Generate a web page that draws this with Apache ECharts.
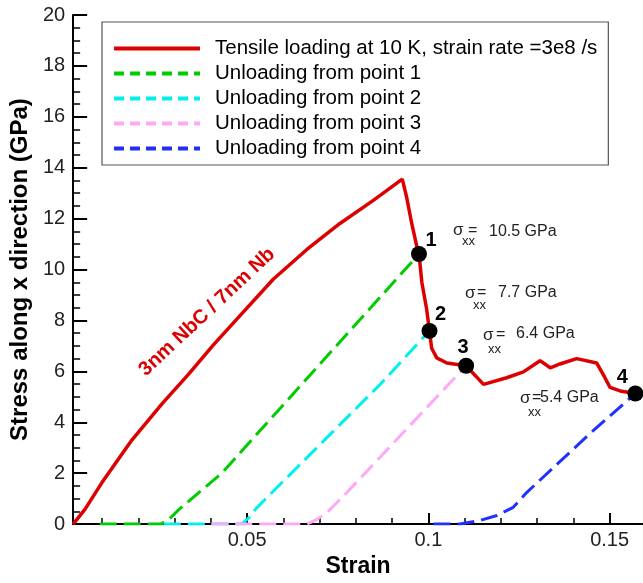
<!DOCTYPE html>
<html><head><meta charset="utf-8">
<script src="https://cdn.jsdelivr.net/npm/echarts@6/dist/echarts.min.js"></script>
<style>html,body{margin:0;padding:0;background:#fff}#c{width:643px;height:583px}</style>
</head><body><div id="c"></div>
<script>
// Tensile loading curve (strain, stress GPa)
const loadStrain = [0.0020,0.0053,0.0099,0.0182,0.0265,0.0338,0.0407,0.0481,0.0572,0.0664,0.0756,0.0848,0.0928,0.0940,0.0954,0.0968,0.0974,0.0982,0.0995,0.1003,0.1009,0.1023,0.1051,0.1104,0.1152,0.1216,0.1262,0.1308,0.1336,0.1363,0.1409,0.1464,0.1487,0.1501,0.1529,0.1571];
const loadStress = [0.00,0.59,1.62,3.30,4.72,5.88,7.04,8.20,9.62,10.78,11.81,12.72,13.55,12.84,11.81,10.91,10.61,9.49,8.46,7.59,6.91,6.53,6.33,6.22,5.49,5.75,5.98,6.42,6.14,6.29,6.50,6.33,5.75,5.37,5.23,5.13];
// Unloading curves
const unl1Strain = [0.0093,0.0262,0.0285,0.0310,0.0430,0.0974];
const unl1Stress = [0,0,0.20,0.55,2.00,10.61];
const unl2Strain = [0.0270,0.0485,0.0505,0.0525,0.0867,0.1003];
const unl2Stress = [0,0,0.25,0.62,5.49,7.59];
const unl3Strain = [0.0401,0.0665,0.0692,0.0720,0.0775,0.1104];
const unl3Stress = [0,0,0.18,0.45,1.24,6.22];
const unl4Strain = [0.1014,0.1087,0.1142,0.1189,0.1234,0.1271,0.1446,0.1571];
const unl4Stress = [0,0,0.14,0.34,0.66,1.24,3.56,5.13];
// Unloading start points
const ptStrain = [0.0974,0.1003,0.1104,0.1571];
const ptStress = [10.61,7.59,6.22,5.13];
const ptLabels = ['1','2','3','4'];
// Names and ticks
const seriesNames = ['Tensile loading at 10 K, strain rate =3e8 /s','Unloading from point 1','Unloading from point 2','Unloading from point 3','Unloading from point 4'];
const xMajorTicks = [0.05,0.10,0.15];
const xMinorTicks = [0.01,0.02,0.03,0.04,0.06,0.07,0.08,0.09,0.11,0.12,0.13,0.14];
const sigmaValues = ['10.5 GPa','7.7 GPa','6.4 GPa','5.4 GPa'];

const zip = (a,b)=>a.map((v,i)=>[v,b[i]]);
const colors = ['#dd0000','#00cc00','#00f0f0','#ffa8f8','#2030ff'];
const FONT = '"Liberation Sans", Arial, sans-serif';

const chart = echarts.init(document.getElementById('c'), null, {renderer:'canvas'});

function dashed(name, data, color){
  return {name, type:'line', data, symbol:'none', z:2,
    lineStyle:{color, width:3, type:[17,7]}, itemStyle:{color}};
}

const labelOffsets = [[12,-14],[11,-16],[-3,-18],[-13,-16]];

const sigmaTexts = [];
const sig = [
  {s:[453,231], xx:[462,241], eq:[468,231], v:[489,232]},
  {s:[465,294], xx:[473,305.5], eq:[477,293], v:[498,292.5]},
  {s:[483,336], xx:[488,349], eq:[496,335], v:[516,334]},
  {s:[520,399], xx:[528,412.5], eq:[532,398], v:[540,398]}
];
sig.forEach((a,i)=>{
  sigmaTexts.push({type:'text', x:a.s[0], y:a.s[1]-0.5, style:{text:'σ', font:'17px '+FONT, fill:'#222', verticalAlign:'middle'}});
  sigmaTexts.push({type:'text', x:a.xx[0], y:a.xx[1], style:{text:'xx', font:'13px '+FONT, fill:'#222', verticalAlign:'middle'}});
  sigmaTexts.push({type:'text', x:a.eq[0], y:a.eq[1], style:{text:'=', font:'16px '+FONT, fill:'#222', verticalAlign:'middle'}});
  sigmaTexts.push({type:'text', x:a.v[0], y:a.v[1], style:{text:sigmaValues[i], font:'16px '+FONT, fill:'#222', verticalAlign:'middle'}});
});

const option = {
  animation:false,
  backgroundColor:'#fff',
  grid:{left:73, right:0, top:15, bottom:51, containLabel:false},
  legend:{
    orient:'vertical', left:102, top:22,
    padding:[16,11,6,10],
    borderColor:'#555', borderWidth:1.2,
    itemWidth:86, itemHeight:14, itemGap:4,
    itemStyle:{opacity:0},
    textStyle:{fontFamily:FONT, fontSize:20.5, color:'#000', padding:[0,0,0,10]},
    data:seriesNames.map((n,i)=>({name:n, itemStyle:{opacity:0}, lineStyle:{width:4, type: i===0?'solid':[10,6]}}))
  },
  xAxis:[{
    type:'value', min:0.002, max:0.1592,
    name:'Strain', nameLocation:'middle', nameGap:24,
    nameTextStyle:{fontFamily:FONT, fontSize:23, fontWeight:'bold', color:'#000'},
    axisLine:{show:true, onZero:false, lineStyle:{color:'#000', width:2}},
    axisTick:{show:true, inside:true, length:11, customValues:xMajorTicks, lineStyle:{color:'#000', width:2}},
    axisLabel:{show:true, customValues:xMajorTicks, margin:6, fontFamily:FONT, fontSize:20, color:'#222',
      formatter:v=>String(+v.toFixed(3))},
    splitLine:{show:false}
  },{
    type:'value', min:0.002, max:0.1592, position:'bottom',
    axisLine:{show:false},
    axisTick:{show:true, inside:true, length:6, customValues:xMinorTicks, lineStyle:{color:'#000', width:1.5}},
    axisLabel:{show:false}, splitLine:{show:false}
  }],
  yAxis:{
    type:'value', min:0, max:20, interval:2,
    name:'Stress along x direction (GPa)', nameLocation:'middle', nameGap:40,
    nameTextStyle:{fontFamily:FONT, fontSize:24, fontWeight:'bold', color:'#000'},
    axisLine:{show:true, onZero:false, lineStyle:{color:'#000', width:2}},
    axisTick:{show:true, inside:true, length:14, lineStyle:{color:'#000', width:2}},
    minorTick:{show:true, splitNumber:4, length:7, lineStyle:{color:'#000', width:1.5}},
    axisLabel:{margin:8, fontFamily:FONT, fontSize:20, color:'#222'},
    splitLine:{show:false}, minorSplitLine:{show:false}
  },
  series:[
    {name:seriesNames[0], type:'line', data:zip(loadStrain,loadStress), symbol:'none', z:3,
      lineStyle:{color:colors[0], width:3.5}, itemStyle:{color:colors[0]}},
    dashed(seriesNames[1], zip(unl1Strain,unl1Stress), colors[1]),
    dashed(seriesNames[2], zip(unl2Strain,unl2Stress), colors[2]),
    dashed(seriesNames[3], zip(unl3Strain,unl3Stress), colors[3]),
    dashed(seriesNames[4], zip(unl4Strain,unl4Stress), colors[4]),
    {name:'points', type:'scatter', symbol:'circle', symbolSize:16, z:5,
      itemStyle:{color:'#000', opacity:1},
      data:ptStrain.map((s,i)=>({value:[s,ptStress[i]],
        label:{show:true, formatter:ptLabels[i], position:'inside', offset:labelOffsets[i],
          fontFamily:FONT, fontSize:20, fontWeight:'bold', color:'#000'}}))}
  ],
  graphic:[
    {type:'text', x:207, y:312, rotation:43*Math.PI/180, originX:0, originY:0,
      style:{text:'3nm NbC / 7nm Nb', font:'bold 20px '+FONT, fill:'#dd0000', align:'center', verticalAlign:'middle'}},
    ...sigmaTexts
  ]
};
chart.setOption(option);
</script>
</body></html>
